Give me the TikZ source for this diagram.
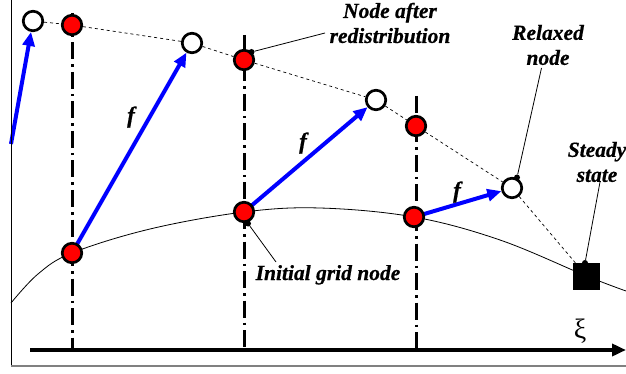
\documentclass[tikz,border=0pt]{standalone}
\usepackage{fontspec}
\setmainfont{Liberation Serif}
\newfontfamily\lblfont{Liberation Serif Bold Italic}[FakeBold=0.6]
\usetikzlibrary{arrows.meta}
\pgfdeclarelayer{bg}
\pgfsetlayers{bg,main}
\begin{document}
\begin{tikzpicture}[x=1pt,y=-1pt,
  open/.style={circle,draw=black,line width=2.7pt,fill=white,minimum size=19.5pt,inner sep=0pt},
  rednode/.style={open,fill=red},
  gridline/.style={line width=3pt,dash pattern=on 17pt off 5pt on 2.5pt off 5pt},
  track/.style={line width=0.7pt,dash pattern=on 3pt off 3pt},
  push/.style={draw=blue,line width=4pt,-{Triangle[length=14pt,width=12pt]}},
  lead/.style={line width=0.8pt},
  lbl/.style={font=\lblfont\fontsize{21.5}{25}\selectfont,align=center,inner sep=0pt},
  flbl/.style={font=\lblfont\fontsize{23}{24}\selectfont,inner sep=0pt},
  pin/.style={circle,fill=black,minimum size=6pt,inner sep=0pt}]
\useasboundingbox (0,0) rectangle (626,374);

% frame
\draw[line width=0.8pt] (11,0) -- (11,366);
\draw[gray,line width=2pt] (11,366) -- (626,366);

% nodes
\node[open] (o1) at (33,21) {};
\node[rednode] (r1) at (72,25) {};
\node[open] (o2) at (192,43) {};
\node[rednode] (r2) at (244,60) {};
\node[open] (o3) at (376,100) {};
\node[rednode] (r3) at (416,126) {};
\node[open] (o4) at (512,188) {};
\node[draw,fill=black,minimum size=26pt,inner sep=0pt] (ss) at (586.5,276) {};

\node[rednode] (b1) at (72,253) {};
\node[rednode] (b2) at (244,212) {};
\node[rednode] (b3) at (414,217) {};

% labels
\node[lbl] (nar) at (390,23) {Node after\\redistribution};
\node[lbl] (rel) at (548,45) {Relaxed\\node};
\node[lbl] (sst) at (597,162) {Steady\\state};
\node[lbl,anchor=base] (ign) at (328,280) {Initial grid node};
\node[flbl] (f1) at (131,117) {f};
\node[flbl] (f2) at (303,143) {f};
\node[flbl] (f3) at (457,192) {f};
\node[inner sep=0pt,font=\fontsize{28}{30}\selectfont] (xi) at (580,331) {ξ};

% pins
\node[pin] (p2) at (251.5,52) {};
\node[pin] (pb) at (248,223.5) {};
\node[pin] (p4) at (517,177.5) {};
\node[pin] (ps) at (585,263) {};

% named free ends
\coordinate (a0) at (11,144);
\coordinate (ax0) at (30,350);
\coordinate (ax1) at (626,350);
\coordinate (g1t) at (72,13);
\coordinate (g1b) at (72,350);
\coordinate (g2t) at (244,35);
\coordinate (g2b) at (244,350);
\coordinate (g3t) at (416,96);
\coordinate (g3b) at (416,350);
\coordinate (narE) at (325,33);
\coordinate (relE) at (541.5,68);
\coordinate (sstE) at (600,182);
\coordinate (ignE) at (276,262);
\coordinate (c0) at (11,303);
\coordinate (c1) at (38,274);
\coordinate (c2) at (150,229);
\coordinate (c3) at (320,208);
\coordinate (c4) at (500,240);
\coordinate (c5) at (626,291);

\begin{pgfonlayer}{bg}
  \draw[line width=0.8pt] plot[smooth,tension=0.6] coordinates {(c0) (c1) (b1.center) (c2) (b2.center) (c3) (b3.center) (c4) (ss.center) (c5)};
  \draw[gridline] (g1t) -- (g1b);
  \draw[gridline] (g2t) -- (g2b);
  \draw[gridline] (g3t) -- (g3b);
  \draw[track] (o1) -- (r1) -- (o2) -- (r2) -- (o3) -- (r3) -- (o4) -- (ss);
  \draw[push] (a0) -- (o1);
  \draw[push] (b1.center) -- (o2);
  \draw[push] (b2.center) -- (o3);
  \draw[push] (b3.center) -- (o4);
  \draw[line width=4pt,-{Triangle[length=14pt,width=12pt]}] (ax0) -- (ax1);
  \draw[lead] (p2) -- (narE);
  \draw[lead] (p4) -- (relE);
  \draw[lead] (ps) -- (sstE);
  \draw[lead] (pb) -- (ignE);
\end{pgfonlayer}
\end{tikzpicture}
\end{document}
